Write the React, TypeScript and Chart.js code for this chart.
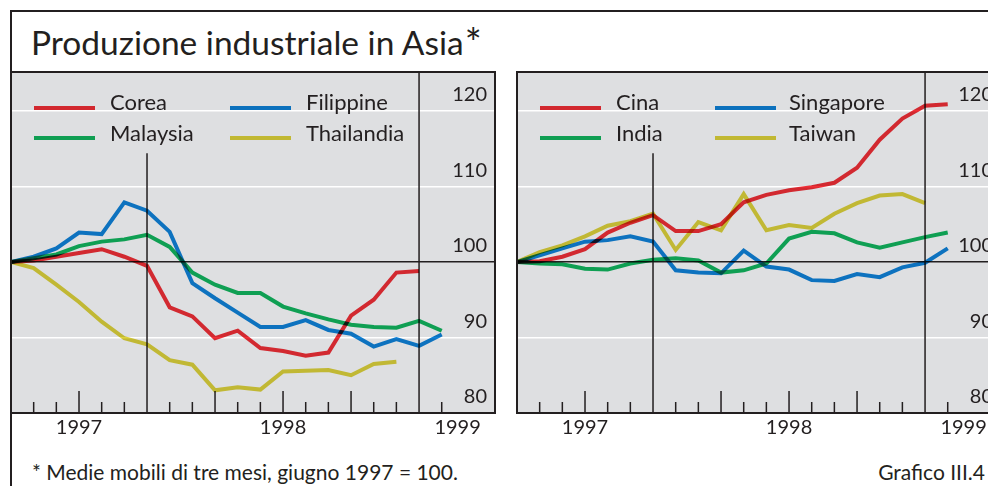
import React, { useEffect, useRef } from "react";
import { Chart, registerables } from "chart.js";

Chart.register(...registerables);

// Index 0 = giugno 1997 (= 100), one point per month (three-month moving averages)
const MONTHS = [
  "giu 97", "lug 97", "ago 97", "set 97", "ott 97", "nov 97", "dic 97",
  "gen 98", "feb 98", "mar 98", "apr 98", "mag 98", "giu 98", "lug 98",
  "ago 98", "set 98", "ott 98", "nov 98", "dic 98", "gen 99",
];

// Left panel
const COREA = [100, 100.2, 100.7, 101.2, 101.7, 100.7, 99.5, 94.0, 92.8, 89.9, 90.9, 88.6, 88.2, 87.6, 88.0, 92.9, 95.0, 98.6, 98.8];
const FILIPPINE = [100, 100.7, 101.8, 103.9, 103.7, 107.9, 106.8, 104.0, 97.2, 95.2, 93.3, 91.4, 91.4, 92.3, 91.0, 90.5, 88.8, 89.8, 88.9, 90.4];
const MALAYSIA = [100, 100.5, 101.0, 102.1, 102.7, 103.0, 103.6, 102.0, 98.6, 97.0, 95.9, 95.9, 94.1, 93.2, 92.4, 91.7, 91.4, 91.3, 92.2, 90.9];
const THAILANDIA = [100, 99.2, 97.0, 94.7, 92.1, 89.9, 89.1, 87.0, 86.4, 83.0, 83.4, 83.1, 85.5, 85.6, 85.7, 85.0, 86.5, 86.8];

// Right panel
const CINA = [100, 100.1, 100.7, 101.7, 103.9, 105.2, 106.2, 104.1, 104.1, 105.0, 107.9, 108.9, 109.5, 109.9, 110.5, 112.5, 116.2, 119.0, 120.7, 120.9];
const SINGAPORE = [100, 100.9, 101.8, 102.7, 102.9, 103.4, 102.7, 98.9, 98.6, 98.5, 101.5, 99.4, 99.0, 97.6, 97.5, 98.4, 98.0, 99.3, 99.9, 101.8];
const INDIA = [100, 99.8, 99.7, 99.1, 99.0, 99.8, 100.3, 100.5, 100.2, 98.6, 98.9, 99.8, 103.1, 104.0, 103.8, 102.6, 101.9, 102.6, 103.3, 103.9];
const TAIWAN = [100, 101.3, 102.2, 103.4, 104.8, 105.4, 106.4, 101.6, 105.3, 104.2, 109.0, 104.2, 104.9, 104.5, 106.4, 107.8, 108.8, 109.0, 107.8];

const Y_TICKS = [80, 90, 100, 110, 120];
const Y_MIN = 80;
const Y_MAX = 125.17;
const X_MIN = 0;
const X_MAX = 21.35;
const YEAR_LABELS = ["1997", "1998", "1999"];
const YEAR_LABEL_POS = [3, 12, 19.7];
const YEAR_LINES = [6, 18];
const YEAR_LINE_TOP = [114.4, Y_MAX];
const MINOR_TICKS = [1, 2, 4, 5, 7, 8, 10, 11, 13, 14, 16, 17, 19];
const MAJOR_TICKS = [3, 9, 12, 15];

const TITLE = "Produzione industriale in Asia";
const FOOTNOTE = "* Medie mobili di tre mesi, giugno 1997 = 100.";
const SOURCE = "Grafico III.4";

const FONT = "Lato, 'Open Sans', sans-serif";
const INK = "#231f20";
const BG = "#dedfe1";

// legend colours as seen; line colours pre-divided for multiply blending over the grey
const RED = { legend: "#d2282f", line: "#f22e36" };
const BLUE = { legend: "#0c71bd", line: "#0e82d9" };
const GREEN = { legend: "#0f9e52", line: "#11b65e" };
const YELLOW = { legend: "#c1b833", line: "#ded33b" };

type Series = { name: string; values: number[]; color: { legend: string; line: string } };

const LEFT_SERIES: Series[] = [
  { name: "Corea", values: COREA, color: RED },
  { name: "Filippine", values: FILIPPINE, color: BLUE },
  { name: "Malaysia", values: MALAYSIA, color: GREEN },
  { name: "Thailandia", values: THAILANDIA, color: YELLOW },
];
const RIGHT_SERIES: Series[] = [
  { name: "Cina", values: CINA, color: RED },
  { name: "Singapore", values: SINGAPORE, color: BLUE },
  { name: "India", values: INDIA, color: GREEN },
  { name: "Taiwan", values: TAIWAN, color: YELLOW },
];

const panelPlugin = {
  id: "panelDecor",
  beforeDraw(chart: any) {
    const { ctx, chartArea: a } = chart;
    ctx.save();
    ctx.fillStyle = BG;
    ctx.fillRect(a.left, a.top, a.right - a.left, a.bottom - a.top);
    ctx.restore();
  },
  beforeDatasetsDraw(chart: any) {
    const { ctx, chartArea: a, scales } = chart;
    const x = scales.x;
    const y = scales.y;
    ctx.save();
    ctx.strokeStyle = INK;
    ctx.lineWidth = 1.5;
    ctx.beginPath();
    YEAR_LINES.forEach((v, i) => {
      const px = x.getPixelForValue(v);
      ctx.moveTo(px, y.getPixelForValue(YEAR_LINE_TOP[i]));
      ctx.lineTo(px, a.bottom);
    });
    MINOR_TICKS.forEach((v) => {
      const px = x.getPixelForValue(v);
      ctx.moveTo(px, a.bottom);
      ctx.lineTo(px, a.bottom - 11);
    });
    MAJOR_TICKS.forEach((v) => {
      const px = x.getPixelForValue(v);
      ctx.moveTo(px, a.bottom);
      ctx.lineTo(px, a.bottom - 22);
    });
    ctx.stroke();
    ctx.restore();
    ctx.save();
    ctx.globalCompositeOperation = "multiply";
  },
  afterDatasetsDraw(chart: any) {
    const { ctx, chartArea: a } = chart;
    ctx.restore();
    ctx.save();
    ctx.strokeStyle = INK;
    ctx.lineWidth = 2;
    ctx.strokeRect(a.left, a.top, a.right - a.left, a.bottom - a.top);
    ctx.restore();
  },
};

function PanelChart({ left, series }: { left: number; series: Series[] }) {
  const ref = useRef<HTMLCanvasElement>(null);
  useEffect(() => {
    const chart = new Chart(ref.current as HTMLCanvasElement, {
      type: "line",
      data: {
        labels: MONTHS,
        datasets: series.map((s) => ({
          label: s.name,
          data: s.values.map((v, i) => ({ x: i, y: v })),
          borderColor: s.color.line,
          backgroundColor: s.color.line,
          borderWidth: 4,
          pointRadius: 0,
          tension: 0,
          fill: false,
          borderJoinStyle: "miter",
        })),
      },
      options: {
        animation: false,
        responsive: false,
        devicePixelRatio: 1,
        layout: { padding: { left: 11, right: 10, top: 12, bottom: 0 } },
        plugins: {
          legend: { display: false },
          tooltip: { enabled: false },
        },
        scales: {
          x: {
            type: "linear",
            position: "bottom",
            min: X_MIN,
            max: X_MAX,
            grid: { display: false, drawTicks: false },
            border: { display: false },
            afterBuildTicks: (s: any) => {
              s.ticks = YEAR_LABEL_POS.map((v) => ({ value: v }));
            },
            afterFit: (s: any) => {
              s.height = 40;
            },
            ticks: {
              autoSkip: false,
              maxRotation: 0,
              padding: 3,
              color: INK,
              font: { family: FONT, size: 20 },
              callback: (_v: any, i: number) => YEAR_LABELS[i],
            },
          },
          y: {
            type: "linear",
            position: "right",
            min: Y_MIN,
            max: Y_MAX,
            afterBuildTicks: (s: any) => {
              s.ticks = Y_TICKS.map((v) => ({ value: v }));
            },
            afterFit: (s: any) => {
              s.width = 0;
            },
            grid: {
              drawTicks: false,
              color: (c: any) =>
                c.tick && c.tick.value === 100 ? INK : c.tick && c.tick.value === 80 ? "rgba(0,0,0,0)" : "#ffffff",
              lineWidth: 1.5,
            },
            border: { display: false },
            ticks: {
              mirror: true,
              padding: -8,
              labelOffset: -16,
              color: INK,
              font: { family: FONT, size: 20 },
              callback: (v: any) => String(v),
            },
          },
        },
      } as any,
      plugins: [panelPlugin],
    });
    return () => chart.destroy();
  }, []);
  return (
    <canvas
      ref={ref}
      width={505}
      height={393}
      style={{ position: "absolute", left, top: 60, width: 505, height: 393 }}
    />
  );
}

function Legend({ panelLeft, col2Line, col2Text, series }: { panelLeft: number; col2Line: number; col2Text: number; series: Series[] }) {
  const rows = [108, 138];
  const baselines = [110.7, 141];
  return (
    <>
      {series.map((s, i) => {
        const row = Math.floor(i / 2);
        const col = i % 2;
        const lineX = panelLeft + (col === 0 ? 23 : col2Line);
        const textX = panelLeft + (col === 0 ? 99 : col2Text);
        return (
          <React.Fragment key={s.name}>
            <div
              style={{
                position: "absolute",
                left: lineX,
                top: rows[row] - 2.3,
                width: 61,
                height: 4.6,
                background: s.color.legend,
              }}
            />
            <div
              style={{
                position: "absolute",
                left: textX,
                top: baselines[row] - 19.5,
                fontSize: 22,
                lineHeight: "22px",
                color: INK,
                whiteSpace: "nowrap",
              }}
            >
              {s.name}
            </div>
          </React.Fragment>
        );
      })}
    </>
  );
}

export default function App() {
  return (
    <div
      style={{
        position: "absolute",
        left: 0,
        top: 0,
        width: 988,
        height: 486,
        overflow: "hidden",
        background: "#fff",
        fontFamily: FONT,
      }}
    >
      <div
        style={{
          position: "absolute",
          left: 10,
          top: 10,
          width: 1000,
          height: 500,
          borderLeft: `2px solid ${INK}`,
          borderTop: `2px solid ${INK}`,
        }}
      />
      <div
        style={{
          position: "absolute",
          left: 31,
          top: 23.6,
          fontSize: 33.5,
          lineHeight: "33.5px",
          color: INK,
          whiteSpace: "nowrap",
        }}
      >
        {TITLE}
        <span style={{ fontSize: 40, position: "relative", top: 3, marginLeft: 1 }}>*</span>
      </div>
      <PanelChart left={0} series={LEFT_SERIES} />
      <PanelChart left={506} series={RIGHT_SERIES} />
      <Legend panelLeft={11} col2Line={219} col2Text={295} series={LEFT_SERIES} />
      <Legend panelLeft={517} col2Line={198} col2Text={272} series={RIGHT_SERIES} />
      <div
        style={{
          position: "absolute",
          left: 32,
          top: 461.4,
          fontSize: 21,
          lineHeight: "21px",
          color: INK,
          whiteSpace: "nowrap",
        }}
      >
        {FOOTNOTE}
      </div>
      <div
        style={{
          position: "absolute",
          right: 3,
          top: 461.4,
          fontSize: 21,
          lineHeight: "21px",
          color: INK,
          whiteSpace: "nowrap",
        }}
      >
        {SOURCE}
      </div>
    </div>
  );
}
